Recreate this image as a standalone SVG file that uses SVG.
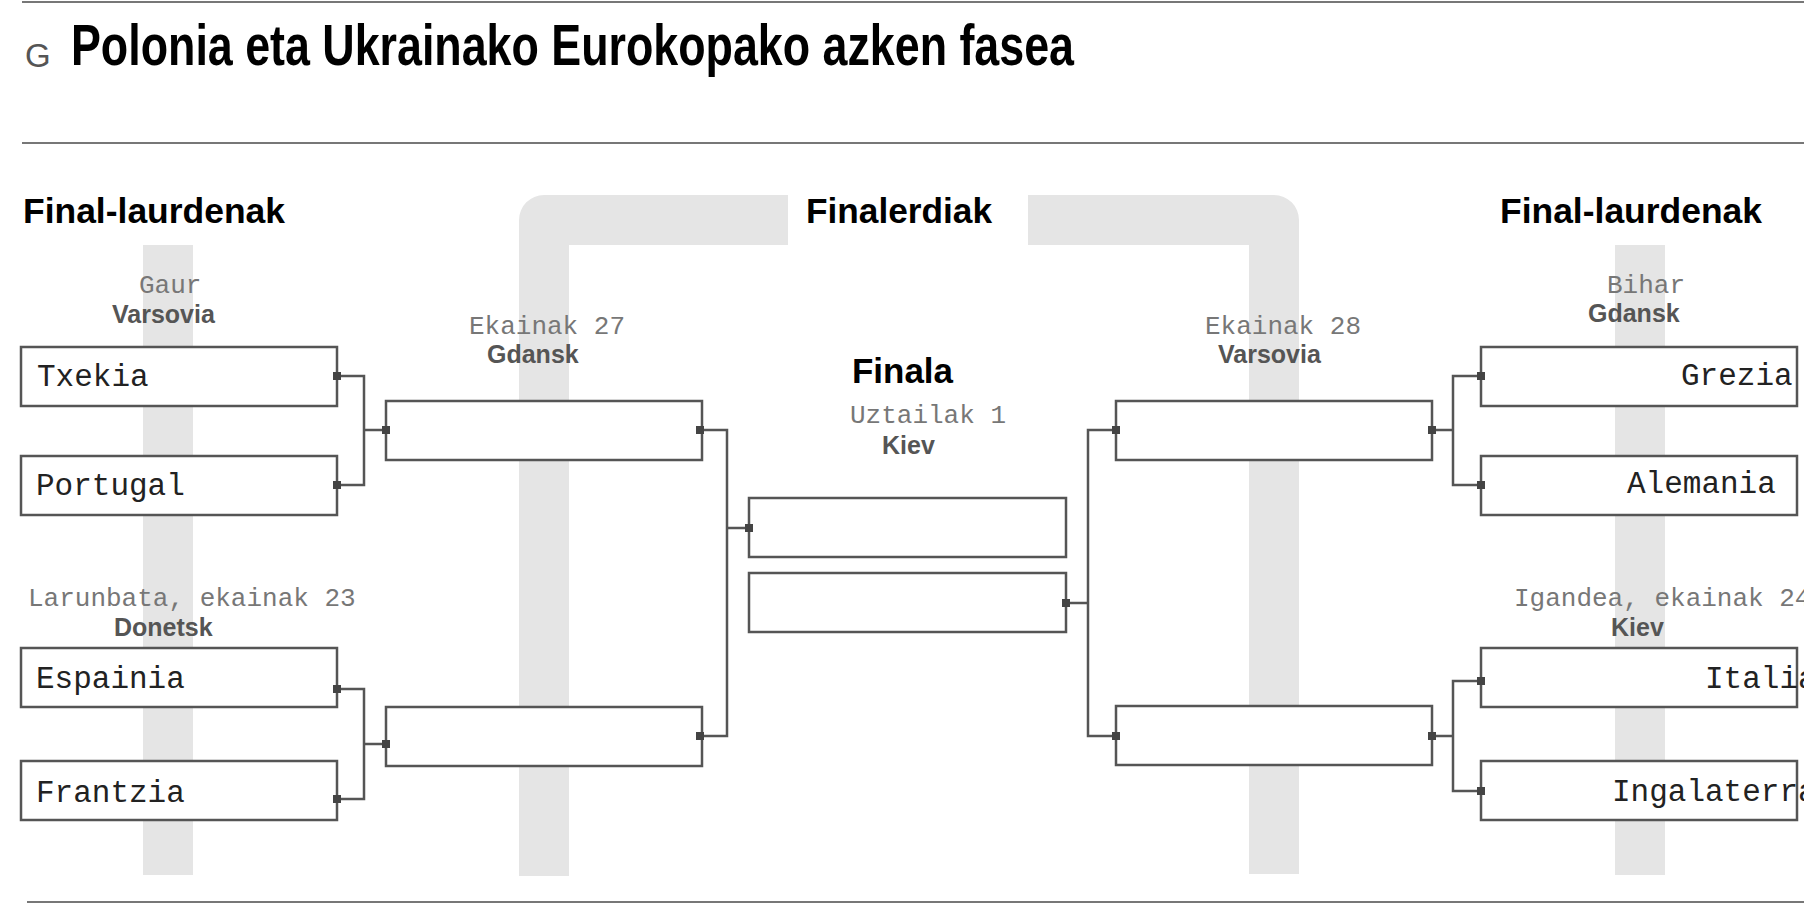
<svg xmlns="http://www.w3.org/2000/svg" width="1804" height="904" viewBox="0 0 1804 904">
<style>
.rule{stroke:#777;stroke-width:2;fill:none}
.band{fill:#e5e5e5}
.box{fill:#fff;stroke:#555;stroke-width:2.5}
.conn{fill:none;stroke:#555;stroke-width:2.5}
.m{fill:#444}
.h{font-family:"Liberation Sans",Arial,sans-serif;font-weight:bold;fill:#000}
.date{font-family:"Liberation Mono","Courier New",monospace;font-size:26px;fill:#777}
.city{font-family:"Liberation Sans",Arial,sans-serif;font-weight:bold;font-size:25px;fill:#555}
.team{font-family:"Liberation Mono","Courier New",monospace;font-size:31px;fill:#222}
</style>
<rect width="1804" height="904" fill="#fff"/>
<g id="rules">
<line class="rule" x1="22" y1="2" x2="1804" y2="2"/>
<line class="rule" x1="22" y1="143" x2="1804" y2="143"/>
<line class="rule" x1="27" y1="902" x2="1804" y2="902"/>
</g>
<g id="title">
<text x="25" y="67" font-family="Liberation Sans, Arial, sans-serif" font-size="33" fill="#555">G</text>
<text class="h" x="71" y="65" font-size="57" textLength="1003" lengthAdjust="spacingAndGlyphs">Polonia eta Ukrainako Eurokopako azken fasea</text>
</g>
<g id="bands">
<rect class="band" x="143" y="245" width="50" height="630"/>
<rect class="band" x="1615" y="245" width="50" height="630"/>
<path class="band" d="M519,876 V220 A25,25 0 0 1 544,195 H788 V245 H569 V876 Z"/>
<path class="band" d="M1028,195 H1274 A25,25 0 0 1 1299,220 V874 H1249 V245 H1028 Z"/>
</g>
<g id="headings">
<text class="h" x="23" y="223" font-size="35" textLength="262" lengthAdjust="spacingAndGlyphs">Final-laurdenak</text>
<text class="h" x="806" y="223" font-size="35" textLength="186" lengthAdjust="spacingAndGlyphs">Finalerdiak</text>
<text class="h" x="1500" y="223" font-size="35" textLength="262" lengthAdjust="spacingAndGlyphs">Final-laurdenak</text>
<text class="h" x="852" y="383" font-size="35" textLength="101" lengthAdjust="spacingAndGlyphs">Finala</text>
</g>
<g id="venues">
<text class="date" x="139" y="293">Gaur</text>
<text class="city" x="112" y="323">Varsovia</text>
<text class="date" x="469" y="334">Ekainak 27</text>
<text class="city" x="487" y="363">Gdansk</text>
<text class="date" x="850" y="423">Uztailak 1</text>
<text class="city" x="882" y="454">Kiev</text>
<text class="date" x="28" y="606">Larunbata, ekainak 23</text>
<text class="city" x="114" y="636">Donetsk</text>
<text class="date" x="1205" y="334">Ekainak 28</text>
<text class="city" x="1218" y="363">Varsovia</text>
<text class="date" x="1607" y="293">Bihar</text>
<text class="city" x="1588" y="322">Gdansk</text>
<text class="date" x="1514" y="606">Igandea, ekainak 24</text>
<text class="city" x="1611" y="636">Kiev</text>
</g>
<g id="connectors">
<path class="conn" d="M337,376 H364 V485 H337 M364,430 H386"/>
<path class="conn" d="M337,689 H364 V799 H337 M364,744 H386"/>
<path class="conn" d="M702,430 H727 V736 H702 M727,528 H749"/>
<path class="conn" d="M1116,430 H1088 V736 H1116 M1066,603 H1088"/>
<path class="conn" d="M1432,430 H1453 M1481,376 H1453 V485 H1481"/>
<path class="conn" d="M1432,736 H1453 M1481,681 H1453 V791 H1481"/>
</g>
<g id="qf-txekia"><rect class="box" x="21" y="347" width="316" height="59"/><text class="team" x="37" y="386">Txekia</text></g>
<g id="qf-portugal"><rect class="box" x="21" y="456" width="316" height="59"/><text class="team" x="36" y="495">Portugal</text></g>
<g id="qf-espainia"><rect class="box" x="21" y="648" width="316" height="59"/><text class="team" x="36" y="688">Espainia</text></g>
<g id="qf-frantzia"><rect class="box" x="21" y="761" width="316" height="59"/><text class="team" x="36" y="802">Frantzia</text></g>
<g id="sf-left-top"><rect class="box" x="386" y="401" width="316" height="59"/></g>
<g id="sf-left-bottom"><rect class="box" x="386" y="707" width="316" height="59"/></g>
<g id="final-1"><rect class="box" x="749" y="498" width="317" height="59"/></g>
<g id="final-2"><rect class="box" x="749" y="573" width="317" height="59"/></g>
<g id="sf-right-top"><rect class="box" x="1116" y="401" width="316" height="59"/></g>
<g id="sf-right-bottom"><rect class="box" x="1116" y="706" width="316" height="59"/></g>
<g id="qf-grezia"><rect class="box" x="1481" y="347" width="316" height="59"/><text class="team" x="1681" y="385">Grezia</text></g>
<g id="qf-alemania"><rect class="box" x="1481" y="456" width="316" height="59"/><text class="team" x="1627" y="493">Alemania</text></g>
<g id="qf-italia"><rect class="box" x="1481" y="648" width="316" height="59"/><text class="team" x="1705" y="688">Italia</text></g>
<g id="qf-ingalaterra"><rect class="box" x="1481" y="761" width="316" height="59"/><text class="team" x="1612" y="801">Ingalaterra</text></g>
<g id="ports">
<rect class="m" x="333" y="372" width="8" height="8"/>
<rect class="m" x="333" y="481" width="8" height="8"/>
<rect class="m" x="333" y="685" width="8" height="8"/>
<rect class="m" x="333" y="795" width="8" height="8"/>
<rect class="m" x="382" y="426" width="8" height="8"/>
<rect class="m" x="696" y="426" width="8" height="8"/>
<rect class="m" x="382" y="740" width="8" height="8"/>
<rect class="m" x="696" y="732" width="8" height="8"/>
<rect class="m" x="745" y="524" width="8" height="8"/>
<rect class="m" x="1062" y="599" width="8" height="8"/>
<rect class="m" x="1112" y="426" width="8" height="8"/>
<rect class="m" x="1428" y="426" width="8" height="8"/>
<rect class="m" x="1112" y="732" width="8" height="8"/>
<rect class="m" x="1428" y="732" width="8" height="8"/>
<rect class="m" x="1477" y="372" width="8" height="8"/>
<rect class="m" x="1477" y="481" width="8" height="8"/>
<rect class="m" x="1477" y="677" width="8" height="8"/>
<rect class="m" x="1477" y="787" width="8" height="8"/>
</g>
</svg>
